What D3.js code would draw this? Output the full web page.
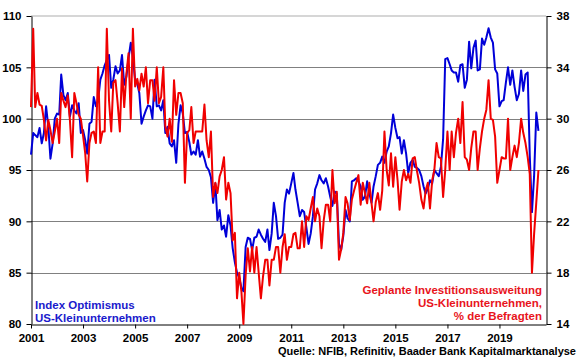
<!DOCTYPE html>
<html><head><meta charset="utf-8">
<script src="https://cdn.jsdelivr.net/npm/d3@7"></script>
<style>html,body{margin:0;padding:0;background:#fff}svg{display:block}</style>
</head><body><svg id="c" width="580" height="359"></svg>
<script>
// ---- data (monthly, starting Jan 2001) ----
const startYear = 2001;
const optimism = [
96.5,98.6,98.4,98.2,99.1,97.6,98.6,101.2,99.2,96.1,97.6,100.0,
100.5,100.4,104.3,102.3,101.8,102.5,100.2,101.3,100.8,100.5,101.5,98.6,
98.9,97.9,96.6,99.5,99.7,102.1,101.2,101.8,103.8,104.4,105.2,105.7,
106.2,103.0,103.8,105.1,104.4,104.7,106.2,103.3,104.1,105.9,107.4,105.9,
103.8,103.4,102.5,99.5,100.2,100.8,101.3,101.2,100.0,103.8,101.2,101.3,
100.8,101.8,98.6,99.2,97.6,97.3,97.9,95.7,99.5,101.3,100.5,98.6,
98.7,97.7,96.5,96.8,96.5,97.9,96.3,96.8,96.1,95.3,95.0,94.3,
91.8,93.7,90.1,91.1,89.2,89.6,88.5,90.6,89.6,87.4,86.0,85.0,
84.5,83.5,83.2,87.5,88.4,88.3,87.2,88.4,88.5,89.2,88.7,88.3,
88.0,89.2,87.2,88.8,91.8,90.5,88.3,88.4,88.7,91.8,93.1,92.7,
93.7,94.7,93.1,91.8,90.5,91.1,90.9,89.4,87.8,88.8,90.5,93.1,
93.7,94.5,94.0,93.7,94.2,93.4,92.4,91.5,92.9,92.7,87.8,87.2,
88.6,91.1,90.3,90.0,93.9,94.0,94.2,93.9,93.4,92.1,92.4,93.9,
92.7,91.8,93.4,94.4,95.5,95.7,96.3,95.7,96.8,97.3,98.6,100.4,
99.1,98.1,98.2,96.6,97.9,96.6,94.7,95.7,96.0,95.3,95.2,95.0,
94.4,93.4,92.7,93.2,94.0,93.7,95.0,94.7,94.4,95.3,98.0,105.8,
105.9,105.3,104.7,104.5,104.5,103.6,105.2,105.3,103.0,103.8,107.5,104.9,
106.9,107.6,104.7,104.8,107.8,107.2,107.9,108.8,107.9,107.4,104.8,104.4,
101.2,101.7,101.8,103.5,105.0,103.3,104.7,103.1,101.8,102.4,104.7,102.7,
104.3,104.5,96.4,90.9,94.4,100.6,98.8
];
const investPlans = [
30.9,37.0,30.9,32.0,31.1,31.0,29.9,28.3,29.9,29.1,28.1,29.0,
30.0,28.1,32.0,31.4,30.9,31.8,29.9,27.0,32.0,31.2,30.3,30.0,
28.7,27.3,25.1,28.1,28.9,29.0,28.1,34.0,28.1,29.0,29.0,37.0,
31.4,29.0,32.8,33.0,31.2,29.0,33.9,30.9,33.5,35.1,30.0,37.0,
32.5,33.1,32.2,33.5,32.5,34.0,31.2,33.0,33.0,31.4,34.0,31.2,
31.7,34.0,29.4,28.6,30.0,28.2,33.0,30.3,32.0,32.0,31.2,25.0,
28.9,29.1,30.9,28.1,29.0,29.0,29.0,29.0,31.1,28.3,27.0,29.0,
23.9,25.0,24.2,25.5,26.0,27.0,23.7,25.0,24.2,20.5,21.1,16.0,
18.0,16.5,14.0,17.8,19.9,18.1,20.0,18.0,20.0,18.0,16.0,17.7,
19.0,19.0,17.0,19.0,19.0,20.0,20.0,18.0,20.0,21.0,19.0,20.0,
20.0,21.0,21.1,19.9,19.9,22.0,20.0,22.4,22.1,23.0,23.9,22.0,
23.0,22.4,19.9,22.1,23.3,23.3,22.0,26.0,23.4,24.3,19.0,19.8,
21.1,23.9,23.4,22.1,23.7,24.4,25.0,25.6,23.3,25.0,24.2,23.4,
25.0,23.4,22.0,23.5,24.2,22.9,24.4,29.0,26.0,24.8,27.3,24.7,
27.0,25.2,22.9,25.1,26.0,25.2,25.7,25.0,26.9,27.0,25.9,25.0,
23.7,23.0,24.4,25.0,23.0,25.2,26.0,28.1,27.0,26.9,23.9,26.0,
29.0,26.0,29.0,27.0,28.9,30.0,28.1,31.3,27.0,26.8,26.0,27.7,
29.0,29.0,26.0,27.7,29.0,30.0,30.7,33.0,30.0,29.9,28.6,25.0,
26.0,27.0,26.9,26.9,30.0,26.0,27.0,27.9,27.0,28.1,30.0,28.9,
28.1,27.0,25.7,18.0,21.0,23.5,26.0
];
const tickYears = [2001,2003,2005,2007,2009,2011,2013,2015,2017,2019];
const leftTicks = [80,85,90,95,100,105,110];
const rightTicks = [14,18,22,26,30,34,38];
const legendBlue = ["Index Optimismus","US-Kleinunternehmen"];
const legendRed = ["Geplante Investitionsausweitung","US-Kleinunternehmen,","% der Befragten"];
const sourceText = "Quelle: NFIB, Refinitiv, Baader Bank Kapitalmarktanalyse";

// ---- chart ----
const svg = d3.select("#c");
const L = 31, R = 546, T = 16, B = 324;
const BLUE = "#0000d8", RED = "#f00000";
const FONT = "'Liberation Sans', Arial, sans-serif";

const x = d3.scaleTime().domain([new Date(2001,0,1), new Date(2020,9,15)]).range([L,R]);
const yL = d3.scaleLinear().domain([80,110]).range([B,T]);
const yR = d3.scaleLinear().domain([14,38]).range([B,T]);
const dateOf = i => new Date(startYear, i, 1);

// gridlines
svg.append("g").selectAll("line").data(leftTicks.filter(v => v>80 && v<110)).join("line")
  .attr("x1",L).attr("x2",R).attr("y1",d=>Math.round(yL(d))+0.5).attr("y2",d=>Math.round(yL(d))+0.5)
  .attr("stroke","#808080").attr("stroke-width",1);
svg.append("line").attr("x1",L).attr("x2",R).attr("y1",yL(110)).attr("y2",yL(110))
  .attr("stroke","#c8c8c8").attr("stroke-width",1.5);

// axes
const axStyle = g => {
  g.select(".domain").attr("stroke","#000");
  g.selectAll(".tick line").attr("stroke","#000");
  g.selectAll("text").attr("font-family",FONT).attr("font-weight","bold").attr("font-size","11.5px").attr("fill","#000");
};
svg.append("g").attr("transform",`translate(${L+0.5},0)`)
  .call(d3.axisLeft(yL).tickValues(leftTicks).tickSize(5).tickPadding(5).tickSizeOuter(0))
  .call(axStyle);
svg.append("g").attr("transform",`translate(${R+0.5},0)`)
  .call(d3.axisRight(yR).tickValues(rightTicks).tickSize(5).tickPadding(5).tickSizeOuter(0))
  .call(axStyle);
svg.append("g").attr("transform",`translate(0,${B+0.5})`)
  .call(d3.axisBottom(x).tickValues(tickYears.map(y=>new Date(y,0,1))).tickFormat(d3.timeFormat("%Y")).tickSize(4).tickPadding(5).tickSizeOuter(0))
  .call(axStyle);

// lines
const lineL = d3.line().x((d,i)=>x(dateOf(i))).y(d=>yL(d));
const lineR = d3.line().x((d,i)=>x(dateOf(i))).y(d=>yR(d));
svg.append("path").datum(optimism).attr("d",lineL).attr("fill","none").attr("stroke",BLUE).attr("stroke-width",2).attr("stroke-linejoin","round");
svg.append("path").datum(investPlans).attr("d",lineR).attr("fill","none").attr("stroke",RED).attr("stroke-width",2).attr("stroke-linejoin","round");

// legends
svg.append("g").selectAll("text").data(legendBlue).join("text")
  .attr("x",35).attr("y",(d,i)=>309+i*12.5).text(d=>d)
  .attr("font-family",FONT).attr("font-weight","bold").attr("font-size","11.5px").attr("fill","#1a1acc");
svg.append("g").selectAll("text").data(legendRed).join("text")
  .attr("x",542).attr("y",(d,i)=>294+i*13).attr("text-anchor","end").text(d=>d)
  .attr("font-family",FONT).attr("font-weight","bold").attr("font-size","11.5px").attr("fill","#e8141c");
svg.append("text").attr("x",576).attr("y",355).attr("text-anchor","end").text(sourceText)
  .attr("font-family",FONT).attr("font-weight","bold").attr("font-size","11px").attr("fill","#000");
</script></body></html>
